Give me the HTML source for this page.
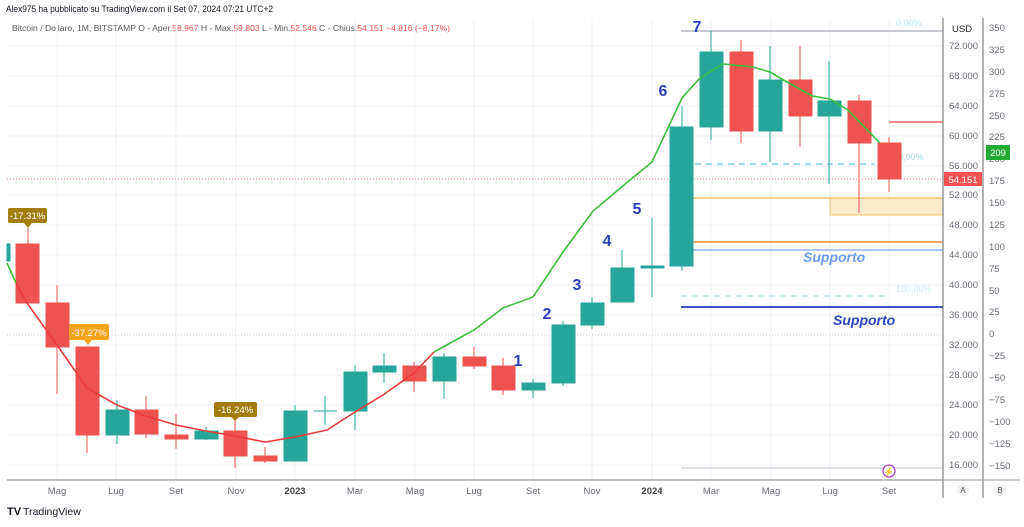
<!DOCTYPE html>
<html><head><meta charset="utf-8"><style>
body{margin:0;background:#fff;width:1024px;height:522px;overflow:hidden;font-family:"Liberation Sans",sans-serif}
</style></head><body>
<svg width="1024" height="522" xmlns="http://www.w3.org/2000/svg" font-family="Liberation Sans, sans-serif">
<rect width="1024" height="522" fill="#fff"/>
<text x="6" y="12" font-size="9" fill="#131722" textLength="267" lengthAdjust="spacingAndGlyphs">Alex975 ha pubblicato su TradingView.com il Set 07, 2024 07:21 UTC+2</text>
<text x="12" y="31" font-size="8.5" fill="#555" textLength="438" lengthAdjust="spacingAndGlyphs"><tspan>Bitcoin / Dollaro, 1M, BITSTAMP  O - Aper.</tspan><tspan fill="#ef5350">58.967</tspan><tspan>  H - Max.</tspan><tspan fill="#ef5350">59.803</tspan><tspan>  L - Min.</tspan><tspan fill="#ef5350">52.546</tspan><tspan>  C - Chius.</tspan><tspan fill="#ef5350">54.151  −4.816 (−8,17%)</tspan></text>
<g stroke="#eef1f6" stroke-width="1">
<line x1="7" x2="943" y1="46" y2="46"/><line x1="7" x2="943" y1="76" y2="76"/><line x1="7" x2="943" y1="106" y2="106"/><line x1="7" x2="943" y1="136" y2="136"/><line x1="7" x2="943" y1="166" y2="166"/><line x1="7" x2="943" y1="195" y2="195"/><line x1="7" x2="943" y1="225" y2="225"/><line x1="7" x2="943" y1="255" y2="255"/><line x1="7" x2="943" y1="285" y2="285"/><line x1="7" x2="943" y1="315" y2="315"/><line x1="7" x2="943" y1="345" y2="345"/><line x1="7" x2="943" y1="375" y2="375"/><line x1="7" x2="943" y1="405" y2="405"/><line x1="7" x2="943" y1="435" y2="435"/><line x1="7" x2="943" y1="465" y2="465"/>
<line x1="57" x2="57" y1="20" y2="480"/><line x1="116" x2="116" y1="20" y2="480"/><line x1="176" x2="176" y1="20" y2="480"/><line x1="236" x2="236" y1="20" y2="480"/><line x1="295" x2="295" y1="20" y2="480"/><line x1="355" x2="355" y1="20" y2="480"/><line x1="415" x2="415" y1="20" y2="480"/><line x1="474" x2="474" y1="20" y2="480"/><line x1="533" x2="533" y1="20" y2="480"/><line x1="592" x2="592" y1="20" y2="480"/><line x1="652" x2="652" y1="20" y2="480"/><line x1="711" x2="711" y1="20" y2="480"/><line x1="771" x2="771" y1="20" y2="480"/><line x1="830" x2="830" y1="20" y2="480"/><line x1="889" x2="889" y1="20" y2="480"/>
</g>
<line x1="7" x2="943" y1="335" y2="335" stroke="#ccc" stroke-dasharray="1,2"/>
<line x1="7" x2="943" y1="179" y2="179" stroke="#ef5350" stroke-dasharray="1,2" opacity="0.7"/>
<line x1="681" x2="943" y1="31" y2="31" stroke="#c5c8ce" stroke-width="2"/>
<line x1="889" x2="943" y1="122" y2="122" stroke="#f08a8f" stroke-width="2"/>
<line x1="695" x2="875" y1="164" y2="164" stroke="#9fdbe6" stroke-width="2" stroke-dasharray="6,5"/>
<rect x="830" y="198" width="113" height="17" fill="#fde9cc" stroke="#f9c36b"/>
<line x1="693" x2="943" y1="198" y2="198" stroke="#f9c36b" stroke-width="1.5"/>
<line x1="693" x2="943" y1="242" y2="242" stroke="#f0893a" stroke-width="1.5"/>
<line x1="693" x2="943" y1="250" y2="250" stroke="#8fb4f5" stroke-width="1.5"/>
<line x1="681" x2="887" y1="296" y2="296" stroke="#b6e6ec" stroke-width="1.5" stroke-dasharray="6,5"/>
<line x1="681" x2="943" y1="307" y2="307" stroke="#3f55c4" stroke-width="2"/>
<line x1="681" x2="943" y1="468" y2="468" stroke="#dfe2e6" stroke-width="2"/>
<text x="896" y="26" font-size="9" fill="#b6e6ec">0,00%</text>
<text x="898" y="160" font-size="9" fill="#9fdbe6">0,00%</text>
<text x="896" y="292" font-size="9" fill="#c8ecf1">100,00%</text>
<text x="803" y="262" font-size="14" font-weight="bold" font-style="italic" fill="#6d9cf0">Supporto</text>
<text x="833" y="325" font-size="14" font-weight="bold" font-style="italic" fill="#2a45c0">Supporto</text>
<g stroke-width="1">
<g stroke="#26a69a" fill="#26a69a">
<rect x="7" y="244" width="3" height="17"/>
<line x1="117" x2="117" y1="400" y2="444"/><rect x="106" y="410" width="23" height="25"/>
<line x1="206" x2="206" y1="427" y2="440"/><rect x="195" y="431" width="23" height="8"/>
<line x1="295" x2="295" y1="405" y2="461"/><rect x="284" y="411" width="23" height="50"/>
<line x1="325" x2="325" y1="396" y2="425"/><line x1="314" x2="337" y1="411" y2="411"/>
<line x1="355" x2="355" y1="365" y2="430"/><rect x="344" y="372" width="23" height="39"/>
<line x1="384" x2="384" y1="353" y2="383"/><rect x="373" y="366" width="23" height="6"/>
<line x1="444" x2="444" y1="353" y2="399"/><rect x="433" y="357" width="23" height="24"/>
<line x1="533" x2="533" y1="379" y2="398"/><rect x="522" y="383" width="23" height="7"/>
<line x1="563" x2="563" y1="321" y2="386"/><rect x="552" y="325" width="23" height="58"/>
<line x1="592" x2="592" y1="297" y2="329"/><rect x="581" y="303" width="23" height="22"/>
<line x1="622" x2="622" y1="250" y2="302"/><rect x="611" y="268" width="23" height="34"/>
<line x1="652" x2="652" y1="218" y2="297"/><rect x="641" y="266" width="23" height="2"/>
<line x1="682" x2="682" y1="106" y2="271"/><rect x="670" y="127" width="23" height="139"/>
<line x1="711" x2="711" y1="31" y2="140"/><rect x="700" y="52" width="23" height="75"/>
<line x1="770" x2="770" y1="46" y2="162"/><rect x="759" y="80" width="23" height="51"/>
<line x1="829" x2="829" y1="61" y2="184"/><rect x="818" y="101" width="23" height="15"/>
</g>
<g stroke="#ef5350" fill="#ef5350">
<line x1="28" x2="28" y1="228" y2="244"/><rect x="16" y="244" width="23" height="59"/>
<line x1="57" x2="57" y1="285" y2="394"/><rect x="46" y="303" width="23" height="44"/>
<line x1="87" x2="87" y1="347" y2="453"/><rect x="76" y="347" width="23" height="88"/>
<line x1="146" x2="146" y1="396" y2="438"/><rect x="135" y="410" width="23" height="24"/>
<line x1="176" x2="176" y1="414" y2="449"/><rect x="165" y="435" width="23" height="4"/>
<line x1="235" x2="235" y1="420" y2="468"/><rect x="224" y="431" width="23" height="25"/>
<line x1="265" x2="265" y1="447" y2="463"/><rect x="254" y="456" width="23" height="5"/>
<line x1="414" x2="414" y1="362" y2="392"/><rect x="403" y="366" width="23" height="15"/>
<line x1="474" x2="474" y1="347" y2="369"/><rect x="463" y="357" width="23" height="9"/>
<line x1="503" x2="503" y1="358" y2="395"/><rect x="492" y="366" width="23" height="24"/>
<line x1="741" x2="741" y1="40" y2="143"/><rect x="730" y="52" width="23" height="79"/>
<line x1="800" x2="800" y1="46" y2="147"/><rect x="789" y="80" width="23" height="36"/>
<line x1="859" x2="859" y1="95" y2="213"/><rect x="848" y="101" width="23" height="42"/>
<line x1="889" x2="889" y1="137" y2="192"/><rect x="878" y="143" width="23" height="36"/>
</g>
</g>
<polyline fill="none" stroke="#ef3a3a" stroke-width="1.6" points="16,283 27,303 57,345 87,388 117,405 146,416 176,425 206,431 235,436 265,442 295,437 327,430 355,412 383,395 414,373 434,352"/>
<polyline fill="none" stroke="#3cbf3c" stroke-width="1.6" points="7,263 16,283"/>
<polyline fill="none" stroke="#3cbf3c" stroke-width="1.6" points="434,352 474,330 503,308 533,297 563,252 593,211 630,180 652,162 682,98 700,78 723,64 753,67 770,72 787,82 812,96 830,99 848,110 880,143"/>
<g font-size="9.5" fill="#fff" text-anchor="middle">
<rect x="8" y="208" width="39" height="15" rx="2" fill="#a57d0e"/><path d="M24,223 L28,228 L32,223Z" fill="#a57d0e"/><text x="27.5" y="219">-17.31%</text>
<rect x="69" y="324" width="40" height="16" rx="2" fill="#f7a21b"/><path d="M84,340 L88,345 L92,340Z" fill="#f7a21b"/><text x="89" y="336">-37.27%</text>
<rect x="214" y="402" width="43" height="15" rx="2" fill="#a57d0e"/><path d="M231,417 L235,421 L239,417Z" fill="#a57d0e"/><text x="235.5" y="413">-16.24%</text>
</g>
<g font-size="16" font-weight="bold" fill="#2a3fb8" text-anchor="middle">
<text x="518" y="366">1</text><text x="547" y="319">2</text><text x="577" y="290">3</text><text x="607" y="246">4</text><text x="637" y="214">5</text><text x="663" y="96">6</text><text x="697" y="32">7</text>
</g>
<circle cx="889" cy="471" r="6" fill="#fff" stroke="#b43fd6" stroke-width="1.3"/><text x="889" y="475" font-size="9" fill="#b43fd6" text-anchor="middle">⚡</text>
<line x1="7" x2="943" y1="480" y2="480" stroke="#999" stroke-width="1.2"/>
<line x1="943" x2="943" y1="18" y2="498" stroke="#666"/>
<line x1="983" x2="983" y1="18" y2="498" stroke="#666"/>
<line x1="943" x2="1020" y1="480" y2="480" stroke="#999"/>
<g font-size="9.5" fill="#6a6d78" text-anchor="middle">
<text x="57" y="494">Mag</text><text x="116" y="494">Lug</text><text x="176" y="494">Set</text><text x="236" y="494">Nov</text><text x="295" y="494" font-weight="bold" fill="#444">2023</text><text x="355" y="494">Mar</text><text x="415" y="494">Mag</text><text x="474" y="494">Lug</text><text x="533" y="494">Set</text><text x="592" y="494">Nov</text><text x="652" y="494" font-weight="bold" fill="#444">2024</text><text x="711" y="494">Mar</text><text x="771" y="494">Mag</text><text x="830" y="494">Lug</text><text x="889" y="494">Set</text>
</g>
<g font-size="9.5" fill="#6a6d78">
<text x="952" y="32" fill="#222">USD</text>
<text x="949" y="49">72.000</text><text x="949" y="79">68.000</text><text x="949" y="109">64.000</text><text x="949" y="139">60.000</text><text x="949" y="169">56.000</text><text x="949" y="198">52.000</text><text x="949" y="228">48.000</text><text x="949" y="258">44.000</text><text x="949" y="288">40.000</text><text x="949" y="318">36.000</text><text x="949" y="348">32.000</text><text x="949" y="378">28.000</text><text x="949" y="408">24.000</text><text x="949" y="438">20.000</text><text x="949" y="468">16.000</text>
<text x="989" y="31">350</text><text x="989" y="53">325</text><text x="989" y="75">300</text><text x="989" y="97">275</text><text x="989" y="119">250</text><text x="989" y="140">225</text><text x="989" y="162">200</text><text x="989" y="184">175</text><text x="989" y="206">150</text><text x="989" y="228">125</text><text x="989" y="250">100</text><text x="989" y="272">75</text><text x="989" y="294">50</text><text x="989" y="315">25</text><text x="989" y="337">0</text><text x="989" y="359">−25</text><text x="989" y="381">−50</text><text x="989" y="403">−75</text><text x="989" y="425">−100</text><text x="989" y="447">−125</text><text x="989" y="469">−150</text>
</g>
<rect x="944" y="172" width="38" height="14" fill="#ef5350"/><text x="963" y="183" font-size="9.5" fill="#fff" text-anchor="middle">54.151</text>
<rect x="986" y="145" width="24" height="15" fill="#22ab32"/><text x="998" y="156" font-size="9.5" fill="#fff" text-anchor="middle">209</text>
<circle cx="963" cy="490" r="6" fill="#f0f1f3"/><text x="963" y="493" font-size="8" fill="#555" text-anchor="middle">A</text>
<circle cx="1000" cy="490" r="6" fill="#f0f1f3"/><text x="1000" y="493" font-size="8" fill="#555" text-anchor="middle">B</text>
<text x="7" y="515" font-size="11" font-weight="bold" fill="#131722">TV</text>
<text x="23" y="515" font-size="10.5" fill="#131722">TradingView</text>
</svg>
</body></html>
